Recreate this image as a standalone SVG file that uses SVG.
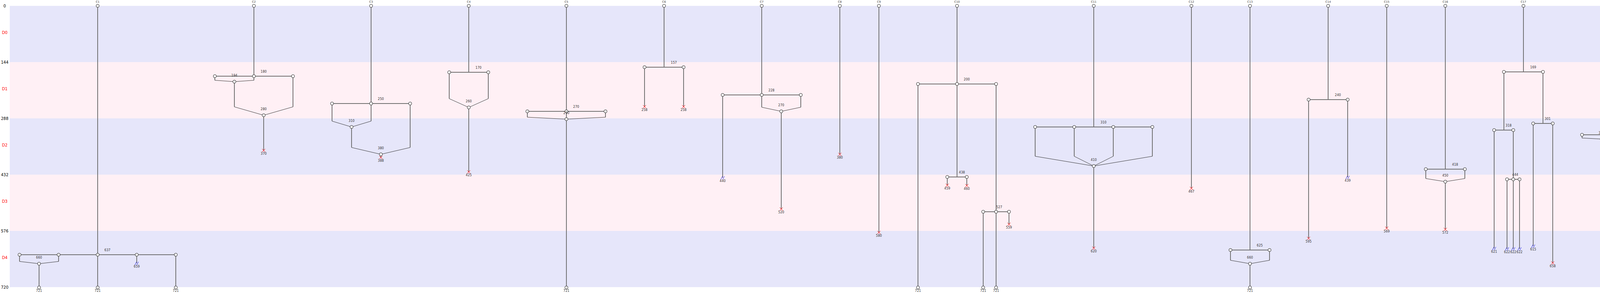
<svg xmlns="http://www.w3.org/2000/svg" xmlns:xlink="http://www.w3.org/1999/xlink" width="6550" height="750" viewBox="0 0 6550 750">
<style>
.th{stroke:#707070;stroke-width:2;fill:none}
.tn{stroke:#333;stroke-width:1;fill:none}
.nd{fill:#fff;stroke:#222;stroke-width:1}
.x{stroke:#f00;stroke-width:1;fill:none}
.bk{stroke:#2222ee;stroke-width:1;fill:none}
text{font-family:"DejaVu Sans","Liberation Sans",sans-serif;text-anchor:middle;dominant-baseline:central}
.l{font-size:8px;fill:#333}
.c{font-size:7px;fill:#333}
.ax{font-size:10px;fill:#000}
.dl{font-size:10px;fill:#f00}
</style>
<defs>
<g id="xm"><path class="x" d="M-4,-4L4,4M-4,4L4,-4"/></g>
<g id="bm"><path class="bk" d="M-4.5,4L-0.5,-4M0.5,4L4.5,-4"/></g>
</defs>
<g id="bands">
<rect x="25" y="15" width="6510" height="144" fill="#E6E6FA"/>
<rect x="25" y="159" width="6510" height="144" fill="#FFF0F5"/>
<rect x="25" y="303" width="6510" height="144" fill="#E6E6FA"/>
<rect x="25" y="447" width="6510" height="144" fill="#FFF0F5"/>
<rect x="25" y="591" width="6510" height="144" fill="#E6E6FA"/>
</g>
<g id="axis">
<text class="ax" x="12" y="15.8">0</text>
<text class="ax" x="12" y="159.8">144</text>
<text class="ax" x="12" y="303.8">288</text>
<text class="ax" x="12" y="447.8">432</text>
<text class="ax" x="12" y="591.8">576</text>
<text class="ax" x="12" y="735.8">720</text>
<text class="dl" x="12" y="83">D0</text>
<text class="dl" x="12" y="227">D1</text>
<text class="dl" x="12" y="371">D2</text>
<text class="dl" x="12" y="515">D3</text>
<text class="dl" x="12" y="659">D4</text>
</g>
<g id="connectors">
<path class="th" d="M250,15V736M50,652H450M50,652V669.25M150,652V669.25M100,675V736M350,652V674M450,652V736"/>
<path class="tn" d="M50,669.25L100,675L150,669.25"/>
<path class="th" d="M650,15V195M550,195H750M550,195V205.5M650,195V205.5M600,209V273.5M750,195V273.5M675,295V385"/>
<path class="tn" d="M550,205.5L600,209L650,205.5M600,273.5L675,295L750,273.5"/>
<path class="th" d="M950,15V265M850,265H1050M850,265V310M950,265V310M900,325V377.5M1050,265V377.5M975,395V403"/>
<path class="tn" d="M850,310L900,325L950,310M900,377.5L975,395L1050,377.5"/>
<path class="th" d="M1200,15V185M1150,185H1250M1150,185V252.5M1250,185V252.5M1200,275V440"/>
<path class="tn" d="M1150,252.5L1200,275L1250,252.5"/>
<path class="th" d="M1450,15V736M1350,285H1550M1350,285V300M1550,285V300"/>
<path class="tn" d="M1350,300L1450,305L1550,300"/>
<path class="th" d="M1700,15V172M1650,172H1750M1650,172V273M1750,172V273"/>
<path class="th" d="M1950,15V274.5M1850,243H2050M1850,243V455M2050,243V274.5M2000,285V535"/>
<path class="tn" d="M1950,274.5L2000,285L2050,274.5"/>
<path class="th" d="M2150,15V395M2250,15V595"/>
<path class="th" d="M2450,15V453M2350,215H2550M2350,215V736M2425,453H2475M2425,453V474M2475,453V475M2550,215V736M2517,542H2583M2517,542V736M2583,542V574"/>
<path class="th" d="M2800,15V325M2650,325H2950M2650,325V400M2750,325V400M2850,325V400M2950,325V400M2800,425V635"/>
<path class="tn" d="M2650,400L2800,425L2950,400M2750,400L2800,425L2850,400"/>
<path class="th" d="M3050,15V482"/>
<path class="th" d="M3200,15V640M3150,640H3250M3150,640V666.25M3250,640V666.25M3200,675V736"/>
<path class="tn" d="M3150,666.25L3200,675L3250,666.25"/>
<path class="th" d="M3400,15V255M3350,255H3450M3350,255V610M3450,255V454"/>
<path class="th" d="M3550,15V584"/>
<path class="th" d="M3700,15V433M3650,433H3750M3650,433V457M3750,433V457M3700,465V587"/>
<path class="tn" d="M3650,457L3700,465L3750,457"/>
<path class="th" d="M3900,15V184M3850,184H3950M3850,184V333M3825,333H3874M3825,333V636M3874,333V637M3858,459H3890M3858,459V637M3890,459V637M3950,184V316M3925,316H3975M3925,316V630M3975,316V673"/>
<path class="th" d="M4150,15V353.25M4050,345H4250M4050,345V353.25M4100,356V408.5M4250,345V408.5M4175,426V736"/>
<path class="tn" d="M4050,353.25L4100,356L4150,353.25M4100,408.5L4175,426L4250,408.5"/>
<path class="th" d="M4350,15V736M4450,15V736M4550,15V359M4650,15V602M4750,15V736"/>
<path class="th" d="M4950,15V293M4850,221H5050M4850,221V293M4900,317V736M4866,449H4933M4866,449V635M4933,449V736M5050,221V560"/>
<path class="tn" d="M4850,293L4900,317L4950,293"/>
<path class="th" d="M5150,15V458"/>
<path class="th" d="M5350,15V736M5250,533H5450M5250,533V549.5M5450,533V549.5"/>
<path class="tn" d="M5250,549.5L5350,555L5450,549.5"/>
<path class="th" d="M5650,15V704M5550,312H5750M5550,312V333M5750,312V333"/>
<path class="tn" d="M5550,333L5650,340L5750,333"/>
<path class="th" d="M5900,15V302M5850,302H5950M5850,302V377M5950,302V377M5900,402V736"/>
<path class="tn" d="M5850,377L5900,402L5950,377"/>
<path class="th" d="M6250,15V532.75M6050,440H6450M6050,440V736M6150,440V477.5M6350,440V477.5M6450,440V532.75M6350,547V715"/>
<path class="tn" d="M6150,477.5L6250,490L6350,477.5M6250,532.75L6350,547L6450,532.75"/>
</g>
<g id="nodes">
<g id="C1"><circle class="nd" cx="250" cy="15" r="4"/><text class="c" x="250" y="5">C1</text></g>
<g id="C1-637"><circle class="nd" cx="50" cy="652" r="4"/><circle class="nd" cx="150" cy="652" r="4"/><circle class="nd" cx="250" cy="652" r="4"/><circle class="nd" cx="350" cy="652" r="4"/><circle class="nd" cx="450" cy="652" r="4"/><text class="l" x="275" y="640">637</text></g>
<g id="C1-660"><circle class="nd" cx="100" cy="675" r="4"/><text class="l" x="100" y="659.5">660</text></g>
<g id="C1-e1"><circle class="nd" cx="100" cy="736" r="4"/><text class="l" x="100" y="744.5">721</text></g>
<g id="C1-e2"><circle class="nd" cx="250" cy="736" r="4"/><text class="l" x="250" y="744.5">721</text></g>
<g id="C1-e3"><use xlink:href="#bm" x="350" y="674"/><text class="l" x="350" y="682.5">659</text></g>
<g id="C1-e4"><circle class="nd" cx="450" cy="736" r="4"/><text class="l" x="450" y="744.5">721</text></g>

<g id="C2"><circle class="nd" cx="650" cy="15" r="4"/><text class="c" x="650" y="5">C2</text></g>
<g id="C2-180"><circle class="nd" cx="550" cy="195" r="4"/><circle class="nd" cx="650" cy="195" r="4"/><circle class="nd" cx="750" cy="195" r="4"/><text class="l" x="675" y="183">180</text></g>
<g id="C2-194"><circle class="nd" cx="600" cy="209" r="4"/><text class="l" x="600" y="193.5">194</text></g>
<g id="C2-280"><circle class="nd" cx="675" cy="295" r="4"/><text class="l" x="675" y="279.5">280</text></g>
<g id="C2-e1"><use xlink:href="#xm" x="675" y="385"/><text class="l" x="675" y="393.5">370</text></g>

<g id="C3"><circle class="nd" cx="950" cy="15" r="4"/><text class="c" x="950" y="5">C3</text></g>
<g id="C3-250"><circle class="nd" cx="850" cy="265" r="4"/><circle class="nd" cx="950" cy="265" r="4"/><circle class="nd" cx="1050" cy="265" r="4"/><text class="l" x="975" y="253">250</text></g>
<g id="C3-310"><circle class="nd" cx="900" cy="325" r="4"/><text class="l" x="900" y="309.5">310</text></g>
<g id="C3-380"><circle class="nd" cx="975" cy="395" r="4"/><text class="l" x="975" y="379.5">380</text></g>
<g id="C3-e1"><use xlink:href="#xm" x="975" y="403"/><text class="l" x="975" y="411.5">388</text></g>

<g id="C4"><circle class="nd" cx="1200" cy="15" r="4"/><text class="c" x="1200" y="5">C4</text></g>
<g id="C4-170"><circle class="nd" cx="1150" cy="185" r="4"/><circle class="nd" cx="1250" cy="185" r="4"/><text class="l" x="1225" y="173">170</text></g>
<g id="C4-260"><circle class="nd" cx="1200" cy="275" r="4"/><text class="l" x="1200" y="259.5">260</text></g>
<g id="C4-e1"><use xlink:href="#xm" x="1200" y="440"/><text class="l" x="1200" y="448.5">425</text></g>

<g id="C5"><circle class="nd" cx="1450" cy="15" r="4"/><text class="c" x="1450" y="5">C5</text></g>
<g id="C5-270"><circle class="nd" cx="1350" cy="285" r="4"/><circle class="nd" cx="1450" cy="285" r="4"/><circle class="nd" cx="1550" cy="285" r="4"/><text class="l" x="1475" y="273">270</text></g>
<g id="C5-290"><circle class="nd" cx="1450" cy="305" r="4"/><text class="l" x="1450" y="289.5">290</text></g>
<g id="C5-e1"><circle class="nd" cx="1450" cy="736" r="4"/><text class="l" x="1450" y="744.5">721</text></g>

<g id="C6"><circle class="nd" cx="1700" cy="15" r="4"/><text class="c" x="1700" y="5">C6</text></g>
<g id="C6-157"><circle class="nd" cx="1650" cy="172" r="4"/><circle class="nd" cx="1750" cy="172" r="4"/><text class="l" x="1725" y="160">157</text></g>
<g id="C6-e1"><use xlink:href="#xm" x="1650" y="273"/><text class="l" x="1650" y="281.5">258</text></g>
<g id="C6-e2"><use xlink:href="#xm" x="1750" y="273"/><text class="l" x="1750" y="281.5">258</text></g>

<g id="C7"><circle class="nd" cx="1950" cy="15" r="4"/><text class="c" x="1950" y="5">C7</text></g>
<g id="C7-228"><circle class="nd" cx="1850" cy="243" r="4"/><circle class="nd" cx="1950" cy="243" r="4"/><circle class="nd" cx="2050" cy="243" r="4"/><text class="l" x="1975" y="231">228</text></g>
<g id="C7-270"><circle class="nd" cx="2000" cy="285" r="4"/><text class="l" x="2000" y="269.5">270</text></g>
<g id="C7-e1"><use xlink:href="#bm" x="1850" y="455"/><text class="l" x="1850" y="463.5">440</text></g>
<g id="C7-e2"><use xlink:href="#xm" x="2000" y="535"/><text class="l" x="2000" y="543.5">520</text></g>

<g id="C8"><circle class="nd" cx="2150" cy="15" r="4"/><text class="c" x="2150" y="5">C8</text></g>
<g id="C8-e1"><use xlink:href="#xm" x="2150" y="395"/><text class="l" x="2150" y="403.5">380</text></g>

<g id="C9"><circle class="nd" cx="2250" cy="15" r="4"/><text class="c" x="2250" y="5">C9</text></g>
<g id="C9-e1"><use xlink:href="#xm" x="2250" y="595"/><text class="l" x="2250" y="603.5">580</text></g>

<g id="C10"><circle class="nd" cx="2450" cy="15" r="4"/><text class="c" x="2450" y="5">C10</text></g>
<g id="C10-200"><circle class="nd" cx="2350" cy="215" r="4"/><circle class="nd" cx="2450" cy="215" r="4"/><circle class="nd" cx="2550" cy="215" r="4"/><text class="l" x="2475" y="203">200</text></g>
<g id="C10-438"><circle class="nd" cx="2425" cy="453" r="4"/><circle class="nd" cx="2475" cy="453" r="4"/><text class="l" x="2462.5" y="441">438</text></g>
<g id="C10-527"><circle class="nd" cx="2517" cy="542" r="4"/><circle class="nd" cx="2550" cy="542" r="4"/><circle class="nd" cx="2583" cy="542" r="4"/><text class="l" x="2558" y="530">527</text></g>
<g id="C10-e1"><circle class="nd" cx="2350" cy="736" r="4"/><text class="l" x="2350" y="744.5">721</text></g>
<g id="C10-e2"><use xlink:href="#xm" x="2425" y="474"/><text class="l" x="2425" y="482.5">459</text></g>
<g id="C10-e3"><use xlink:href="#xm" x="2475" y="475"/><text class="l" x="2475" y="483.5">460</text></g>
<g id="C10-e4"><circle class="nd" cx="2517" cy="736" r="4"/><text class="l" x="2517" y="744.5">721</text></g>
<g id="C10-e5"><circle class="nd" cx="2550" cy="736" r="4"/><text class="l" x="2550" y="744.5">721</text></g>
<g id="C10-e6"><use xlink:href="#xm" x="2583" y="574"/><text class="l" x="2583" y="582.5">559</text></g>

<g id="C11"><circle class="nd" cx="2800" cy="15" r="4"/><text class="c" x="2800" y="5">C11</text></g>
<g id="C11-310"><circle class="nd" cx="2650" cy="325" r="4"/><circle class="nd" cx="2750" cy="325" r="4"/><circle class="nd" cx="2850" cy="325" r="4"/><circle class="nd" cx="2950" cy="325" r="4"/><text class="l" x="2825" y="313">310</text></g>
<g id="C11-410"><circle class="nd" cx="2800" cy="425" r="4"/><text class="l" x="2800" y="409.5">410</text></g>
<g id="C11-e1"><use xlink:href="#xm" x="2800" y="635"/><text class="l" x="2800" y="643.5">620</text></g>

<g id="C12"><circle class="nd" cx="3050" cy="15" r="4"/><text class="c" x="3050" y="5">C12</text></g>
<g id="C12-e1"><use xlink:href="#xm" x="3050" y="482"/><text class="l" x="3050" y="490.5">467</text></g>

<g id="C13"><circle class="nd" cx="3200" cy="15" r="4"/><text class="c" x="3200" y="5">C13</text></g>
<g id="C13-625"><circle class="nd" cx="3150" cy="640" r="4"/><circle class="nd" cx="3250" cy="640" r="4"/><text class="l" x="3225" y="628">625</text></g>
<g id="C13-660"><circle class="nd" cx="3200" cy="675" r="4"/><text class="l" x="3200" y="659.5">660</text></g>
<g id="C13-e1"><circle class="nd" cx="3200" cy="736" r="4"/><text class="l" x="3200" y="744.5">721</text></g>

<g id="C14"><circle class="nd" cx="3400" cy="15" r="4"/><text class="c" x="3400" y="5">C14</text></g>
<g id="C14-240"><circle class="nd" cx="3350" cy="255" r="4"/><circle class="nd" cx="3450" cy="255" r="4"/><text class="l" x="3425" y="243">240</text></g>
<g id="C14-e1"><use xlink:href="#xm" x="3350" y="610"/><text class="l" x="3350" y="618.5">595</text></g>
<g id="C14-e2"><use xlink:href="#bm" x="3450" y="454"/><text class="l" x="3450" y="462.5">439</text></g>

<g id="C15"><circle class="nd" cx="3550" cy="15" r="4"/><text class="c" x="3550" y="5">C15</text></g>
<g id="C15-e1"><use xlink:href="#xm" x="3550" y="584"/><text class="l" x="3550" y="592.5">569</text></g>

<g id="C16"><circle class="nd" cx="3700" cy="15" r="4"/><text class="c" x="3700" y="5">C16</text></g>
<g id="C16-418"><circle class="nd" cx="3650" cy="433" r="4"/><circle class="nd" cx="3750" cy="433" r="4"/><text class="l" x="3725" y="421">418</text></g>
<g id="C16-450"><circle class="nd" cx="3700" cy="465" r="4"/><text class="l" x="3700" y="449.5">450</text></g>
<g id="C16-e1"><use xlink:href="#xm" x="3700" y="587"/><text class="l" x="3700" y="595.5">572</text></g>

<g id="C17"><circle class="nd" cx="3900" cy="15" r="4"/><text class="c" x="3900" y="5">C17</text></g>
<g id="C17-169"><circle class="nd" cx="3850" cy="184" r="4"/><circle class="nd" cx="3950" cy="184" r="4"/><text class="l" x="3925" y="172">169</text></g>
<g id="C17-318"><circle class="nd" cx="3825" cy="333" r="4"/><circle class="nd" cx="3874" cy="333" r="4"/><text class="l" x="3862" y="321">318</text></g>
<g id="C17-444"><circle class="nd" cx="3858" cy="459" r="4"/><circle class="nd" cx="3874" cy="459" r="4"/><circle class="nd" cx="3890" cy="459" r="4"/><text class="l" x="3879" y="447">444</text></g>
<g id="C17-301"><circle class="nd" cx="3925" cy="316" r="4"/><circle class="nd" cx="3975" cy="316" r="4"/><text class="l" x="3962" y="304">301</text></g>
<g id="C17-e1"><use xlink:href="#bm" x="3825" y="636"/><text class="l" x="3825" y="644.5">621</text></g>
<g id="C17-e2"><use xlink:href="#bm" x="3858" y="637"/><text class="l" x="3858" y="645.5">622</text></g>
<g id="C17-e3"><use xlink:href="#bm" x="3874" y="637"/><text class="l" x="3874" y="645.5">622</text></g>
<g id="C17-e4"><use xlink:href="#bm" x="3890" y="637"/><text class="l" x="3890" y="645.5">622</text></g>
<g id="C17-e5"><use xlink:href="#bm" x="3925" y="630"/><text class="l" x="3925" y="638.5">615</text></g>
<g id="C17-e6"><use xlink:href="#xm" x="3975" y="673"/><text class="l" x="3975" y="681.5">658</text></g>

<g id="C18"><circle class="nd" cx="4150" cy="15" r="4"/><text class="c" x="4150" y="5">C18</text></g>
<g id="C18-330"><circle class="nd" cx="4050" cy="345" r="4"/><circle class="nd" cx="4150" cy="345" r="4"/><circle class="nd" cx="4250" cy="345" r="4"/><text class="l" x="4175" y="333">330</text></g>
<g id="C18-341"><circle class="nd" cx="4100" cy="356" r="4"/><text class="l" x="4100" y="340.5">341</text></g>
<g id="C18-411"><circle class="nd" cx="4175" cy="426" r="4"/><text class="l" x="4175" y="410.5">411</text></g>
<g id="C18-e1"><circle class="nd" cx="4175" cy="736" r="4"/><text class="l" x="4175" y="744.5">721</text></g>

<g id="C19"><circle class="nd" cx="4350" cy="15" r="4"/><text class="c" x="4350" y="5">C19</text></g>
<g id="C19-e1"><circle class="nd" cx="4350" cy="736" r="4"/><text class="l" x="4350" y="744.5">721</text></g>
<g id="C20"><circle class="nd" cx="4450" cy="15" r="4"/><text class="c" x="4450" y="5">C20</text></g>
<g id="C20-e1"><circle class="nd" cx="4450" cy="736" r="4"/><text class="l" x="4450" y="744.5">721</text></g>
<g id="C21"><circle class="nd" cx="4550" cy="15" r="4"/><text class="c" x="4550" y="5">C21</text></g>
<g id="C21-e1"><use xlink:href="#xm" x="4550" y="359"/><text class="l" x="4550" y="367.5">344</text></g>
<g id="C22"><circle class="nd" cx="4650" cy="15" r="4"/><text class="c" x="4650" y="5">C22</text></g>
<g id="C22-e1"><use xlink:href="#xm" x="4650" y="602"/><text class="l" x="4650" y="610.5">587</text></g>
<g id="C23"><circle class="nd" cx="4750" cy="15" r="4"/><text class="c" x="4750" y="5">C23</text></g>
<g id="C23-e1"><circle class="nd" cx="4750" cy="736" r="4"/><text class="l" x="4750" y="744.5">721</text></g>

<g id="C24"><circle class="nd" cx="4950" cy="15" r="4"/><text class="c" x="4950" y="5">C24</text></g>
<g id="C24-206"><circle class="nd" cx="4850" cy="221" r="4"/><circle class="nd" cx="4950" cy="221" r="4"/><circle class="nd" cx="5050" cy="221" r="4"/><text class="l" x="4975" y="209">206</text></g>
<g id="C24-302"><circle class="nd" cx="4900" cy="317" r="4"/><text class="l" x="4900" y="301.5">302</text></g>
<g id="C24-434"><circle class="nd" cx="4866" cy="449" r="4"/><circle class="nd" cx="4900" cy="449" r="4"/><circle class="nd" cx="4933" cy="449" r="4"/><text class="l" x="4908" y="437">434</text></g>
<g id="C24-e1"><use xlink:href="#xm" x="4866" y="635"/><text class="l" x="4866" y="643.5">620</text></g>
<g id="C24-e2"><circle class="nd" cx="4900" cy="736" r="4"/><text class="l" x="4900" y="744.5">721</text></g>
<g id="C24-e3"><circle class="nd" cx="4933" cy="736" r="4"/><text class="l" x="4933" y="744.5">721</text></g>
<g id="C24-e4"><use xlink:href="#xm" x="5050" y="560"/><text class="l" x="5050" y="568.5">545</text></g>

<g id="C25"><circle class="nd" cx="5150" cy="15" r="4"/><text class="c" x="5150" y="5">C25</text></g>
<g id="C25-e1"><use xlink:href="#xm" x="5150" y="458"/><text class="l" x="5150" y="466.5">443</text></g>

<g id="C26"><circle class="nd" cx="5350" cy="15" r="4"/><text class="c" x="5350" y="5">C26</text></g>
<g id="C26-518"><circle class="nd" cx="5250" cy="533" r="4"/><circle class="nd" cx="5350" cy="533" r="4"/><circle class="nd" cx="5450" cy="533" r="4"/><text class="l" x="5375" y="521">518</text></g>
<g id="C26-540"><circle class="nd" cx="5350" cy="555" r="4"/><text class="l" x="5350" y="539.5">540</text></g>
<g id="C26-e1"><circle class="nd" cx="5350" cy="736" r="4"/><text class="l" x="5350" y="744.5">721</text></g>

<g id="C27"><circle class="nd" cx="5650" cy="15" r="4"/><text class="c" x="5650" y="5">C27</text></g>
<g id="C27-297"><circle class="nd" cx="5550" cy="312" r="4"/><circle class="nd" cx="5650" cy="312" r="4"/><circle class="nd" cx="5750" cy="312" r="4"/><text class="l" x="5675" y="300">297</text></g>
<g id="C27-325"><circle class="nd" cx="5650" cy="340" r="4"/><text class="l" x="5650" y="324.5">325</text></g>
<g id="C27-e1"><use xlink:href="#xm" x="5650" y="704"/><text class="l" x="5650" y="712.5">689</text></g>

<g id="C28"><circle class="nd" cx="5900" cy="15" r="4"/><text class="c" x="5900" y="5">C28</text></g>
<g id="C28-287"><circle class="nd" cx="5850" cy="302" r="4"/><circle class="nd" cx="5950" cy="302" r="4"/><text class="l" x="5925" y="290">287</text></g>
<g id="C28-387"><circle class="nd" cx="5900" cy="402" r="4"/><text class="l" x="5900" y="386.5">387</text></g>
<g id="C28-e1"><circle class="nd" cx="5900" cy="736" r="4"/><text class="l" x="5900" y="744.5">721</text></g>

<g id="C29"><circle class="nd" cx="6250" cy="15" r="4"/><text class="c" x="6250" y="5">C29</text></g>
<g id="C29-425"><circle class="nd" cx="6050" cy="440" r="4"/><circle class="nd" cx="6150" cy="440" r="4"/><circle class="nd" cx="6250" cy="440" r="4"/><circle class="nd" cx="6350" cy="440" r="4"/><circle class="nd" cx="6450" cy="440" r="4"/><text class="l" x="6275" y="428">425</text></g>
<g id="C29-475"><circle class="nd" cx="6250" cy="490" r="4"/><text class="l" x="6250" y="474.5">475</text></g>
<g id="C29-532"><circle class="nd" cx="6350" cy="547" r="4"/><text class="l" x="6350" y="531.5">532</text></g>
<g id="C29-e1"><circle class="nd" cx="6050" cy="736" r="4"/><text class="l" x="6050" y="744.5">721</text></g>
<g id="C29-e2"><use xlink:href="#xm" x="6350" y="715"/><text class="l" x="6350" y="723.5">700</text></g>
</g>
</svg>
